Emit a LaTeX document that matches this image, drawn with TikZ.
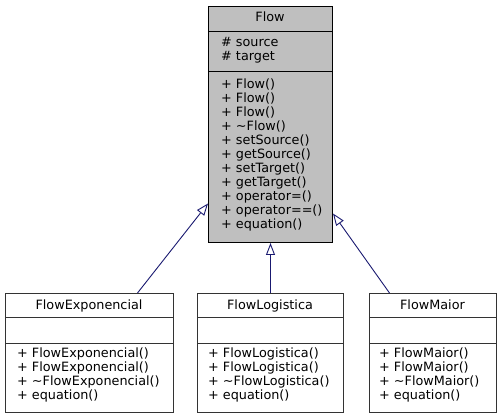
\documentclass[tikz,border=0pt]{standalone}
\usepackage{fontspec}
\setmainfont{DejaVu Sans}
\usetikzlibrary{arrows.meta}
\definecolor{edgeblue}{HTML}{191970}
\definecolor{boxgray}{HTML}{BFBFBF}
\tikzset{
  compart/.style={draw=black!80, line width=1pt, inner sep=0pt, anchor=north west},
  txt/.style={inner sep=0pt, font=\fontsize{12.8}{14}\selectfont},
  inh/.style={draw=edgeblue, line width=0.9pt, -{Triangle[open, length=12pt, width=9pt, line width=0.9pt]}}
}
\begin{document}
\begin{tikzpicture}[x=1pt,y=-1pt]
\useasboundingbox (0,0) rectangle (501,419);
% Flow
\node[compart, fill=boxgray, draw=black, minimum width=124pt, minimum height=25pt] (flowH) at (208,6) {};
\node[compart, fill=boxgray, draw=black, minimum width=124pt, minimum height=40pt] (flowA) at (208,31) {};
\node[compart, fill=boxgray, draw=black, minimum width=124pt, minimum height=171pt] (flowM) at (208,71) {};
\node[txt, anchor=base] (flowT) at (270,22) {Flow};
\node[txt, anchor=base west] (flowa1) at (221,47) {\# source};
\node[txt, anchor=base west] (flowa2) at (221,61) {\# target};
\foreach [count=\i] \t in {+ Flow(), + Flow(), + Flow(), + \textasciitilde Flow(), + setSource(), + getSource(), + setTarget(), + getTarget(), + operator=(), + operator==(), + equation()}
  \node[txt, anchor=base west] (flowm\i) at (221,{75+14*\i}) {\t};
% FlowExponencial
\node[compart, minimum width=168pt, minimum height=24pt] (feH) at (5,293) {};
\node[compart, minimum width=168pt, minimum height=26pt] (feA) at (5,317) {};
\node[compart, minimum width=168pt, minimum height=69pt] (feM) at (5,343) {};
\node[txt, anchor=base] (feT) at (89,310) {FlowExponencial};
\foreach [count=\i] \t in {+ FlowExponencial(), + FlowExponencial(), + \textasciitilde FlowExponencial(), + equation()}
  \node[txt, anchor=base west] (fem\i) at (17,{344+14*\i}) {\t};
% FlowLogistica
\node[compart, minimum width=146pt, minimum height=24pt] (flH) at (197,293) {};
\node[compart, minimum width=146pt, minimum height=26pt] (flA) at (197,317) {};
\node[compart, minimum width=146pt, minimum height=69pt] (flM) at (197,343) {};
\node[txt, anchor=base] (flT) at (270,310) {FlowLogistica};
\foreach [count=\i] \t in {+ FlowLogistica(), + FlowLogistica(), + \textasciitilde FlowLogistica(), + equation()}
  \node[txt, anchor=base west] (flm\i) at (208,{344+14*\i}) {\t};
% FlowMaior
\node[compart, minimum width=127pt, minimum height=24pt] (fmH) at (369,293) {};
\node[compart, minimum width=127pt, minimum height=26pt] (fmA) at (369,317) {};
\node[compart, minimum width=127pt, minimum height=69pt] (fmM) at (369,343) {};
\node[txt, anchor=base] (fmT) at (432.5,310) {FlowMaior};
\foreach [count=\i] \t in {+ FlowMaior(), + FlowMaior(), + \textasciitilde FlowMaior(), + equation()}
  \node[txt, anchor=base west] (fmm\i) at (379,{344+14*\i}) {\t};
% inheritance
\draw[inh] ([xshift=48pt]feH.north) -- ([yshift=-46.5pt]flowM.west);
\draw[inh] (flH.north) -- (flowM.south);
\draw[inh] ([xshift=-43.5pt]fmH.north) -- ([yshift=-56.5pt]flowM.east);
\end{tikzpicture}
\end{document}
